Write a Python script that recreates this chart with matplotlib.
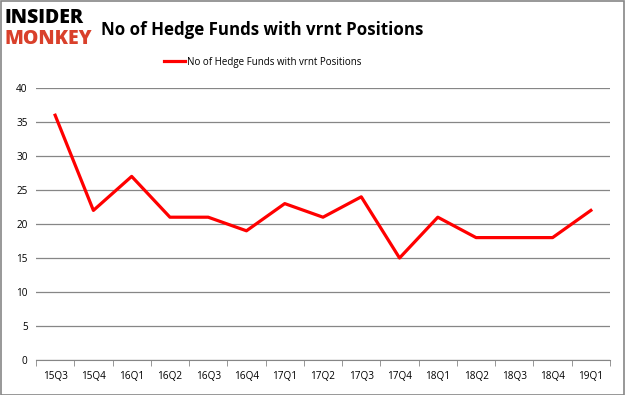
import matplotlib.pyplot as plt
import numpy as np

quarters = ['15Q3', '15Q4', '16Q1', '16Q2', '16Q3', '16Q4', '17Q1', '17Q2',
            '17Q3', '17Q4', '18Q1', '18Q2', '18Q3', '18Q4', '19Q1']
funds = [36, 22, 27, 21, 21, 19, 23, 21, 24, 15, 21, 18, 18, 18, 22]
yticks = [0, 5, 10, 15, 20, 25, 30, 35, 40]
label = 'No of Hedge Funds with vrnt Positions'

plt.rcParams['font.family'] = ['Open Sans', 'DejaVu Sans']

fig = plt.figure(figsize=(6.25, 3.95), dpi=100)
ax = fig.add_axes([0.0576, 0.0886, 0.9184, 0.6886])

x = np.arange(len(quarters))
ax.plot(x, funds, color='#ff0000', linewidth=2.3, label=label)

ax.set_xlim(-0.5, len(quarters) - 0.5)
ax.set_ylim(0, 40)
ax.set_yticks(yticks)
ax.set_xticks(x)
ax.set_xticklabels(quarters, fontsize=7.2)
ax.tick_params(axis='y', labelsize=7.2, length=0, pad=6)
ax.set_xticks(np.arange(-0.5, len(quarters)), minor=True)
ax.tick_params(axis='x', which='major', length=0, pad=8)
ax.tick_params(axis='x', which='minor', length=4, color='#868686')
ax.grid(axis='y', color='#868686', linewidth=0.9)
ax.set_axisbelow(True)
for s in ['top', 'right', 'left']:
    ax.spines[s].set_visible(False)
ax.spines['bottom'].set_color('#868686')

fig.text(0.162, 0.925, 'No of Hedge Funds with vrnt Positions', fontsize=12.2,
         fontweight='bold', va='center', ha='left')
fig.text(0.008, 0.955, 'INSIDER', fontsize=14, fontweight='heavy', color='black',
         va='center', ha='left')
fig.text(0.008, 0.9, 'MONKEY', fontsize=14, fontweight='heavy', color='#d9402b',
         va='center', ha='left')

fig.legend(loc='center', bbox_to_anchor=(0.42, 0.843), frameon=False, fontsize=7,
           handlelength=2.2, handletextpad=0.2)

fig.patches.append(plt.Rectangle((0.001, 0.001), 0.997, 0.997, transform=fig.transFigure,
                                 fill=False, edgecolor='#868686', linewidth=1.2))

fig.savefig('out.png', dpi=100)
